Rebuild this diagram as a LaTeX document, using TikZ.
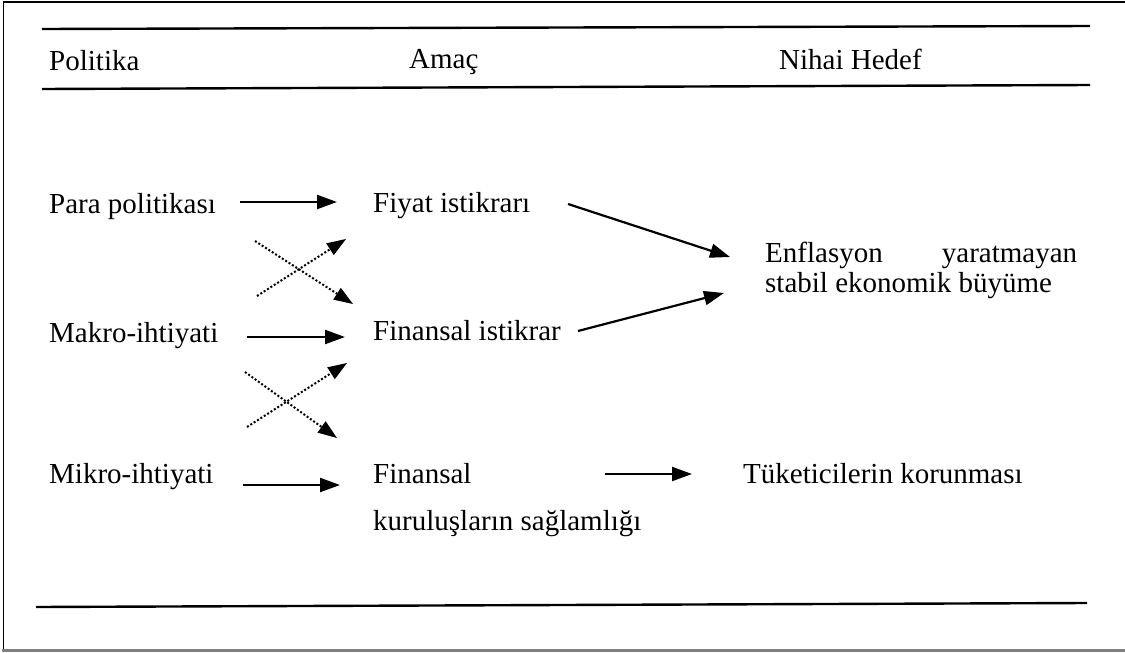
\documentclass[tikz,border=0pt]{standalone}
\usepackage{fontspec}
\setmainfont{Liberation Serif}
\usetikzlibrary{arrows.meta}
\begin{document}
\begin{tikzpicture}[x=1pt,y=-1pt,
  txt/.style={anchor=base west,inner sep=0pt,font={\fontsize{29}{34}\selectfont}},
  rule/.style={line width=2.4pt,black},
  arr/.style={line width=2.2pt,-{Triangle[length=20pt,width=14pt]}},
  darr/.style={line width=2pt,dotted,-{Triangle[length=19pt,width=14pt,line width=0pt]}},
]
\useasboundingbox (0,0) rectangle (1125,653);
% frame
\draw[line width=1.2pt] (3.5,650) -- (3.5,2) -- (1125,2);
\draw[line width=3pt,gray] (2,650) -- (1125,650);
% rules
\draw[rule] (42,29) -- (1090,26);
\draw[rule] (42,89) -- (1090,85);
\draw[rule] (36,607) -- (1087,603);
% header
\node[txt] (h1) at (49,70) {Politika};
\node[txt] (h2) at (409,68) {Amaç};
\node[txt] (h3) at (779,69) {Nihai Hedef};
% policies
\node[txt] (para) at (49,213) {Para politikası};
\node[txt] (makro) at (49,342) {Makro-ihtiyati};
\node[txt] (mikro) at (49,483) {Mikro-ihtiyati};
% goals
\node[txt] (fiyat) at (373,212) {Fiyat istikrarı};
\node[txt] (finist) at (373,340) {Finansal istikrar};
\node[txt,align=left,font={\fontsize{29}{47}\selectfont}] (finkur) at (373,530) {Finansal\\kuruluşların sağlamlığı};
% final targets
\node[txt,align=left,font={\fontsize{29}{30}\selectfont}] (enf) at (765,292) {\makebox[312pt][s]{Enflasyon yaratmayan}\\stabil ekonomik büyüme};
\node[txt] (tuk) at (743,483) {Tüketicilerin korunması};
% connector ends
\coordinate (paraE) at (240,202);   \coordinate (fiyatW) at (337,202);
\coordinate (makroE) at (247,337);  \coordinate (finistW) at (345,337);
\coordinate (mikroE) at (243,485);  \coordinate (finkurW) at (340,485);
\coordinate (finkurE) at (605,474); \coordinate (tukW) at (692,474);
\coordinate (fiyatE) at (568,204);  \coordinate (enfW1) at (730,257);
\coordinate (finistE) at (578,331); \coordinate (enfW2) at (724,293);
\coordinate (paraX) at (255,241);   \coordinate (finistX) at (353,304);
\coordinate (makroX) at (257,296);  \coordinate (fiyatX) at (346,239);
\coordinate (makroY) at (245,372);  \coordinate (finkurX) at (337,438);
\coordinate (mikroX) at (247,427);  \coordinate (finistY) at (347,363);
% arrows
\draw[arr] (paraE) -- (fiyatW);
\draw[arr] (makroE) -- (finistW);
\draw[arr] (mikroE) -- (finkurW);
\draw[arr] (finkurE) -- (tukW);
\draw[arr] (fiyatE) -- (enfW1);
\draw[arr] (finistE) -- (enfW2);
\draw[darr] (paraX) -- (finistX);
\draw[darr] (makroX) -- (fiyatX);
\draw[darr] (makroY) -- (finkurX);
\draw[darr] (mikroX) -- (finistY);
\end{tikzpicture}
\end{document}
